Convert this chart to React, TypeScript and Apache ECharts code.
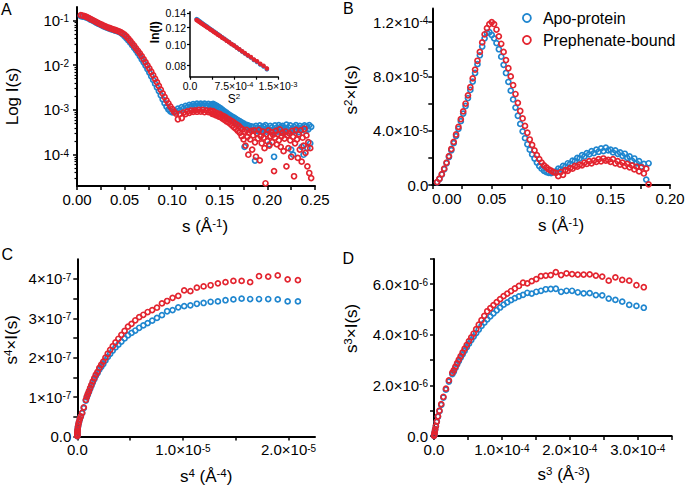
import React, { useEffect, useRef } from 'react';
import * as echarts from 'echarts';

const FONT = 'Arial, "Liberation Sans", Helvetica, sans-serif';
const BLUE = '#1f86cf';
const RED = '#e3242f';
const SERIES_NAMES = ['Apo-protein', 'Prephenate-bound'];

// ---------------- Panel A : s (1/Å) vs I(s) (log axis) ----------------
const sA = [
  0.004, 0.006, 0.008, 0.010, 0.012, 0.014, 0.016, 0.018, 0.020, 0.022,
  0.024, 0.026, 0.028, 0.030, 0.032, 0.034, 0.036, 0.038, 0.040, 0.042,
  0.044, 0.046, 0.048, 0.050, 0.052, 0.054, 0.056, 0.058, 0.060, 0.062,
  0.064, 0.066, 0.068, 0.070, 0.072, 0.074, 0.076, 0.078, 0.080, 0.082,
  0.084, 0.086, 0.088, 0.090, 0.092, 0.094, 0.096, 0.098, 0.100, 0.102,
  0.104, 0.106, 0.108, 0.110, 0.112, 0.114, 0.116, 0.118, 0.120, 0.122,
  0.124, 0.126, 0.128, 0.130, 0.132, 0.134, 0.136, 0.138, 0.140,
  0.141, 0.142, 0.143, 0.144, 0.145, 0.146, 0.147, 0.148, 0.149, 0.150,
  0.151, 0.152, 0.153, 0.154, 0.155, 0.156, 0.157, 0.158, 0.159, 0.160,
  0.161, 0.162, 0.163, 0.164, 0.165, 0.166, 0.167, 0.168, 0.169, 0.170,
  0.171, 0.172, 0.173, 0.174, 0.175, 0.176, 0.177, 0.178, 0.179, 0.180,
  0.181, 0.182, 0.183, 0.184, 0.185, 0.186, 0.187, 0.188, 0.189, 0.190,
  0.191, 0.192, 0.193, 0.194, 0.195, 0.196, 0.197, 0.198, 0.199, 0.200,
  0.201, 0.202, 0.203, 0.204, 0.205, 0.206, 0.207, 0.208, 0.209, 0.210,
  0.211, 0.212, 0.213, 0.214, 0.215, 0.216, 0.217, 0.218, 0.219, 0.220,
  0.221, 0.222, 0.223, 0.224, 0.225, 0.226, 0.227, 0.228, 0.229, 0.230,
  0.231, 0.232, 0.233, 0.234, 0.235, 0.236, 0.237, 0.238, 0.239, 0.240,
  0.241, 0.242, 0.243, 0.244, 0.245, 0.246,
];
const apoA = [
  0.125, 0.122, 0.120, 0.116, 0.111, 0.105, 0.100, 0.0951, 0.090, 0.0855,
  0.0816, 0.0778, 0.0742, 0.0711, 0.0684, 0.0659, 0.0637, 0.0616, 0.0597, 0.0578,
  0.0558, 0.0529, 0.0488, 0.0442, 0.0399, 0.0358, 0.0319, 0.0281, 0.0246, 0.0215,
  0.0186, 0.0160, 0.0136, 0.01163, 0.00984, 0.00822, 0.00684, 0.00567, 0.00469, 0.00387,
  0.00319, 0.00264, 0.00213, 0.00173, 0.00142, 0.00119, 0.00103, 0.000937, 0.00088, 0.000913,
  0.000925, 0.00107, 0.000986, 0.001157, 0.001076, 0.001231, 0.001152, 0.001293, 0.001215, 0.001344,
  0.001268, 0.001386, 0.001282, 0.00139, 0.001291, 0.001392, 0.001271, 0.001365, 0.00125,
  1.33e-3, 1.25e-3, 1.36e-3, 1.2e-3, 1.3e-3, 1.15e-3, 1.24e-3, 1.08e-3, 1.16e-3, 1.0e-3,
  1.08e-3, 9.3e-4, 1.0e-3, 8.6e-4, 9.3e-4, 8.0e-4, 8.7e-4, 7.4e-4, 8.1e-4, 6.9e-4,
  7.6e-4, 6.5e-4, 7.1e-4, 6.1e-4, 6.7e-4, 5.7e-4, 6.3e-4, 5.4e-4, 5.9e-4, 5.1e-4,
  5.6e-4, 4.8e-4, 5.3e-4, 4.5e-4, 5.0e-4, 1.5e-4, 4.7e-4, 4.1e-4, 4.6e-4, 3.9e-4,
  4.4e-4, 3.7e-4, 4.3e-4, 3.5e-4, 4.2e-4, 3.6e-4, 7.4e-5, 4.4e-4, 3.4e-4, 4.0e-4,
  3.3e-4, 4.5e-4, 3.6e-4, 4.1e-4, 3.2e-4, 4.3e-4, 3.5e-4, 4.6e-4, 3.3e-4, 4.0e-4,
  3.6e-4, 1.7e-4, 4.4e-4, 3.4e-4, 4.1e-4, 3.2e-4, 9.0e-5, 4.5e-4, 3.5e-4, 4.0e-4,
  3.3e-4, 4.6e-4, 3.6e-4, 4.2e-4, 3.1e-4, 4.4e-4, 3.5e-4, 4.0e-4, 3.2e-4, 4.7e-4,
  3.6e-4, 4.1e-4, 3.3e-4, 4.5e-4, 1.3e-4, 3.7e-4, 1.0e-4, 4.2e-4, 3.4e-4, 4.6e-4,
  3.5e-4, 4.0e-4, 3.2e-4, 4.4e-4, 3.6e-4, 1.5e-4, 4.1e-4, 1.0e-4, 4.5e-4, 3.4e-4,
  4.3e-4, 1.4e-4, 3.7e-4, 4.6e-4, 1.8e-4, 4.2e-4,
];
const prepA = [
  0.131, 0.128, 0.125, 0.120, 0.1146, 0.1087, 0.1035, 0.0981, 0.093, 0.0884,
  0.0842, 0.0802, 0.0765, 0.0733, 0.0703, 0.0679, 0.0656, 0.0634, 0.0613, 0.0595,
  0.0573, 0.0546, 0.0514, 0.048, 0.0438, 0.0393, 0.0349, 0.0309, 0.0272, 0.0239,
  0.021, 0.0184, 0.0159, 0.01367, 0.01167, 0.00995, 0.00848, 0.00715, 0.00602, 0.00498,
  0.00418, 0.00345, 0.00284, 0.00235, 0.00195, 0.00164, 0.00141, 0.0012, 0.00105, 0.000913,
  0.000832, 0.00062, 0.000814, 0.00066, 0.000877, 0.000808, 0.000929, 0.000862, 0.000972, 0.000907,
  0.000976, 0.000913, 0.001007, 0.000917, 0.001004, 0.000891, 0.000973, 0.000893, 0.000969,
  9.0e-4, 8.2e-4, 9.4e-4, 8.0e-4, 8.8e-4, 7.6e-4, 8.5e-4, 7.9e-4, 7.1e-4, 8.2e-4,
  6.9e-4, 7.6e-4, 6.4e-4, 7.3e-4, 6.0e-4, 6.9e-4, 5.6e-4, 6.4e-4, 5.3e-4, 6.1e-4,
  4.9e-4, 5.7e-4, 4.5e-4, 5.4e-4, 4.1e-4, 5.0e-4, 3.8e-4, 4.7e-4, 3.4e-4, 4.4e-4,
  3.1e-4, 4.0e-4, 2.6e-4, 3.7e-4, 2.2e-4, 3.3e-4, 1.6e-4, 3.6e-4, 2.5e-4, 1.0e-4,
  3.1e-4, 2.2e-4, 3.4e-4, 1.3e-4, 2.7e-4, 3.5e-4, 1.9e-4, 9.0e-5, 3.0e-4, 2.3e-4,
  3.6e-4, 7.5e-5, 2.6e-4, 1.8e-4, 3.3e-4, 2.4e-4, 1.4e-4, 2.3e-5, 2.9e-4, 2.0e-4,
  3.5e-4, 1.6e-4, 2.6e-4, 3.2e-4, 1.9e-4, 2.8e-4, 4.3e-5, 2.4e-4, 3.4e-4, 1.7e-4,
  2.9e-4, 2.1e-4, 3.7e-4, 1.5e-4, 2.6e-4, 3.1e-4, 1.2e-4, 2.3e-4, 3.3e-4, 5.5e-5,
  2.7e-4, 1.4e-4, 3.0e-4, 2.1e-4, 9.0e-5, 3.4e-4, 2.5e-4, 3.3e-5, 1.8e-4, 3.6e-4,
  2.2e-4, 8.5e-5, 2.9e-4, 1.3e-4, 3.5e-4, 7.0e-5, 2.4e-4, 1.6e-4, 3.8e-4, 1.1e-4,
  2.7e-4, 5.5e-5, 1.9e-4, 3.9e-5, 1.4e-4, 3.0e-5,
];

// ---------------- Inset : s^2 vs I (log axis labelled ln(I)) ----------------
const s2In = [
  1.124e-4, 1.300e-4, 1.488e-4, 1.690e-4, 1.904e-4, 2.132e-4, 2.372e-4, 2.624e-4, 2.890e-4, 3.168e-4,
  3.460e-4, 3.764e-4, 4.080e-4, 4.410e-4, 4.752e-4, 5.108e-4, 5.476e-4, 5.856e-4, 6.250e-4, 6.656e-4,
  7.076e-4, 7.508e-4, 7.952e-4, 8.410e-4, 8.880e-4, 9.364e-4, 9.860e-4, 1.0368e-3, 1.0890e-3, 1.1424e-3,
  1.1972e-3, 1.2532e-3, 1.3104e-3,
];
const apoIn = [
  0.1316, 0.1306, 0.1293, 0.1282, 0.1269, 0.1257, 0.1243, 0.1230, 0.1215, 0.1201,
  0.1184, 0.1169, 0.1152, 0.1137, 0.1119, 0.1102, 0.1083, 0.1066, 0.1046, 0.1029,
  0.1008, 0.0991, 0.0970, 0.0951, 0.0930, 0.0911, 0.0890, 0.0872, 0.0850, 0.0832,
  0.0810, 0.0792, 0.0769,
];
const prepIn = [
  0.1304, 0.1295, 0.1282, 0.1273, 0.1259, 0.1249, 0.1234, 0.1223, 0.1207, 0.1195,
  0.1177, 0.1164, 0.1146, 0.1132, 0.1114, 0.1099, 0.1079, 0.1064, 0.1044, 0.1028,
  0.1007, 0.0991, 0.0970, 0.0953, 0.0932, 0.0914, 0.0893, 0.0876, 0.0854, 0.0837,
  0.0815, 0.0798, 0.0776,
];

// ---------------- Panel B : s vs s^2 I(s)  (values in units of 1e-5) ----------------
const sB = [
  0.004, 0.006, 0.008, 0.010, 0.012, 0.014, 0.016, 0.018, 0.020, 0.022,
  0.024, 0.026, 0.028, 0.030, 0.032, 0.034, 0.036, 0.038, 0.040, 0.042,
  0.044, 0.046, 0.048, 0.050, 0.052, 0.054, 0.056, 0.058, 0.060, 0.062,
  0.064, 0.066, 0.068, 0.070, 0.072, 0.074, 0.076, 0.078, 0.080, 0.082,
  0.084, 0.086, 0.088, 0.090, 0.092, 0.094, 0.096, 0.098, 0.100, 0.102,
  0.104, 0.106, 0.108, 0.110, 0.112, 0.114, 0.116, 0.118, 0.120, 0.122,
  0.124, 0.126, 0.128, 0.130, 0.132, 0.134, 0.136, 0.138, 0.140, 0.142,
  0.144, 0.146, 0.148, 0.150, 0.152, 0.154, 0.156, 0.158, 0.160, 0.162,
  0.164, 0.166, 0.168, 0.170, 0.172, 0.174, 0.176, 0.178, 0.180, 0.182,
];
const apoB_e5 = [
  0.20, 0.44, 0.77, 1.16, 1.60, 2.06, 2.56, 3.08, 3.60, 4.14,
  4.70, 5.26, 5.82, 6.40, 7.00, 7.62, 8.25, 8.90, 9.55, 10.2,
  10.8, 11.2, 11.25, 11.05, 10.8, 10.45, 10.0, 9.45, 8.85, 8.25,
  7.6, 6.95, 6.3, 5.7, 5.1, 4.5, 3.95, 3.45, 3.0, 2.6,
  2.25, 1.95, 1.65, 1.4, 1.2, 1.05, 0.95, 0.9, 0.88, 0.95,
  1.0, 1.2, 1.15, 1.4, 1.35, 1.6, 1.55, 1.8, 1.75, 2.0,
  1.95, 2.2, 2.1, 2.35, 2.25, 2.5, 2.35, 2.6, 2.45, 2.7,
  2.5, 2.75, 2.55, 2.6, 2.4, 2.55, 2.3, 2.4, 2.15, 2.3,
  2.0, 2.1, 1.8, 1.95, 1.6, 1.75, 1.35, 1.55, 0.4, 1.6,
];
const prepB_e5 = [
  0.21, 0.46, 0.80, 1.20, 1.65, 2.13, 2.65, 3.18, 3.72, 4.28,
  4.85, 5.42, 6.00, 6.60, 7.20, 7.85, 8.50, 9.15, 9.80, 10.5,
  11.1, 11.55, 11.85, 12.0, 11.85, 11.45, 10.95, 10.4, 9.8, 9.2,
  8.6, 8.0, 7.35, 6.7, 6.05, 5.45, 4.9, 4.35, 3.85, 3.35,
  2.95, 2.55, 2.2, 1.9, 1.65, 1.45, 1.3, 1.15, 1.05, 0.95,
  0.9, 0.65, 0.95, 0.75, 1.1, 1.05, 1.25, 1.2, 1.4, 1.35,
  1.5, 1.45, 1.65, 1.55, 1.75, 1.6, 1.8, 1.7, 1.9, 1.75,
  1.95, 1.8, 1.85, 1.7, 1.9, 1.6, 1.75, 1.5, 1.65, 1.4,
  1.55, 1.3, 1.45, 1.15, 1.35, 1.0, 1.3, 0.85, 1.2, 0.05,
];

// ---------------- Panel C : s^4 (units 1e-6) vs s^4 I(s) (units 1e-7) ----------------
const s4C_e6 = [
  0.000256, 0.001296, 0.004096, 0.01, 0.02074, 0.03842, 0.06554, 0.105, 0.16, 0.2343,
  0.3318, 0.457, 0.6147, 0.81,
  0.8999, 0.9971, 1.1020, 1.2149, 1.3363, 1.4666, 1.6062, 1.7555, 1.9150, 2.0851,
  2.2664, 2.4591, 2.6639, 2.8813, 3.1117, 3.3556, 3.6137, 3.8863, 4.1740, 4.4775,
  4.7971, 5.1337, 5.4876, 5.8595, 6.2500, 6.6597, 7.0892, 7.5392, 8.0103, 8.5031,
  9.0183, 9.5565, 10.1185, 10.7049, 11.3165, 11.9539, 12.6178, 13.3091, 14.0283, 14.7763,
  15.5539, 16.3617, 17.2006, 18.0714, 18.9747, 19.9116, 20.8827,
];
const apoC_e7 = [
  0.01, 0.03, 0.06, 0.10, 0.14, 0.19, 0.245, 0.30, 0.36, 0.43,
  0.50, 0.59, 0.72, 0.91,
  0.99, 1.06, 1.13, 1.21, 1.29, 1.37, 1.45, 1.54, 1.61, 1.70,
  1.77, 1.84, 1.93, 2.02, 2.10, 2.18, 2.26, 2.33, 2.41, 2.49,
  2.57, 2.63, 2.69, 2.76, 2.82, 2.88, 2.94, 3.01, 3.08, 3.18,
  3.21, 3.28, 3.31, 3.33, 3.37, 3.39, 3.42, 3.43, 3.46, 3.48,
  3.50, 3.49, 3.49, 3.49, 3.48, 3.43, 3.43,
];
const prepC_e7 = [
  0.01, 0.03, 0.06, 0.10, 0.14, 0.19, 0.25, 0.31, 0.37, 0.44,
  0.51, 0.60, 0.74, 0.93,
  1.01, 1.08, 1.15, 1.23, 1.31, 1.40, 1.48, 1.57, 1.64, 1.74,
  1.82, 1.90, 2.00, 2.10, 2.20, 2.29, 2.39, 2.48, 2.58, 2.68,
  2.79, 2.86, 2.95, 3.03, 3.09, 3.16, 3.21, 3.27, 3.38, 3.44,
  3.52, 3.57, 3.71, 3.69, 3.78, 3.81, 3.84, 3.89, 3.92, 3.95,
  3.95, 3.92, 4.07, 4.06, 4.09, 3.99, 3.97,
];

// ---------------- Panel D : s^3 (units 1e-5) vs s^3 I(s) (units 1e-6) ----------------
const s3D_e5 = [
  0.0064, 0.0216, 0.0512, 0.1, 0.1728, 0.2744, 0.4096, 0.5832, 0.8, 1.065,
  1.382, 1.758, 2.195, 2.7,
  2.9218, 3.1554, 3.4012, 3.6594, 3.9304, 4.2144, 4.5118, 4.8229, 5.1479, 5.4872,
  5.8411, 6.2099, 6.5939, 6.9935, 7.4088, 7.8403, 8.2882, 8.7528, 9.2345, 9.7336,
  10.2503, 10.7850, 11.3380, 11.9095, 12.5000, 13.1097, 13.7388, 14.3878, 15.0569, 15.7464,
  16.4567, 17.1880, 17.9406, 18.7149, 19.5112, 20.3297, 21.1709, 22.0349, 22.9221, 23.8328,
  24.7673, 25.7259, 26.7090, 27.7168, 28.7496, 29.8078, 30.8916,
];
const apoD_e6 = [
  0.01, 0.034, 0.078, 0.155, 0.26, 0.39, 0.56, 0.76, 0.98, 1.23,
  1.52, 1.83, 2.15, 2.45,
  2.55, 2.69, 2.83, 2.96, 3.10, 3.23, 3.37, 3.51, 3.65, 3.79,
  3.93, 4.07, 4.21, 4.35, 4.48, 4.61, 4.73, 4.85, 4.97, 5.08,
  5.19, 5.28, 5.37, 5.45, 5.52, 5.58, 5.66, 5.63, 5.70, 5.74,
  5.80, 5.81, 5.82, 5.70, 5.74, 5.74, 5.68, 5.64, 5.65, 5.57,
  5.56, 5.43, 5.38, 5.31, 5.18, 5.14, 5.07,
];
const prepD_e6 = [
  0.01, 0.035, 0.08, 0.16, 0.27, 0.40, 0.57, 0.78, 1.0, 1.26,
  1.55, 1.87, 2.2, 2.5,
  2.6, 2.74, 2.88, 3.02, 3.16, 3.30, 3.45, 3.60, 3.75, 3.90,
  4.05, 4.22, 4.40, 4.58, 4.75, 4.93, 5.05, 5.17, 5.29, 5.41,
  5.53, 5.63, 5.73, 5.83, 5.93, 6.06, 6.03, 6.12, 6.20, 6.32,
  6.34, 6.36, 6.48, 6.36, 6.43, 6.40, 6.38, 6.38, 6.39, 6.34,
  6.30, 6.14, 6.27, 6.17, 6.14, 5.96, 5.88,
];

// ---------------- ticks & labels ----------------
const ticksAx = [0, 0.025, 0.05, 0.075, 0.1, 0.125, 0.15, 0.175, 0.2, 0.225, 0.25];
const labelsAx = [0, 0.05, 0.1, 0.15, 0.2, 0.25];
const labelsAy = [1e-4, 1e-3, 1e-2, 1e-1];
const minorAy = [
  3e-5, 4e-5, 5e-5, 6e-5, 7e-5, 8e-5, 9e-5,
  2e-4, 3e-4, 4e-4, 5e-4, 6e-4, 7e-4, 8e-4, 9e-4,
  2e-3, 3e-3, 4e-3, 5e-3, 6e-3, 7e-3, 8e-3, 9e-3,
  2e-2, 3e-2, 4e-2, 5e-2, 6e-2, 7e-2, 8e-2, 9e-2,
];
const ticksInX = [0, 3.75e-4, 7.5e-4, 1.125e-3, 1.5e-3];
const labelsInX = [0, 7.5e-4, 1.5e-3];
const labelsInY = [0.08, 0.10, 0.12, 0.14];
const ticksBx = [0, 0.025, 0.05, 0.075, 0.1, 0.125, 0.15, 0.175, 0.2];
const labelsBx = [0, 0.05, 0.1, 0.15, 0.2];
const ticksBy = [0, 2e-5, 4e-5, 6e-5, 8e-5, 1e-4, 1.2e-4];
const labelsBy = [0, 4e-5, 8e-5, 1.2e-4];
const ticksCx = [0, 5e-6, 1e-5, 1.5e-5, 2e-5];
const labelsCx = [0, 1e-5, 2e-5];
const ticksCy = [0, 0.5e-7, 1e-7, 1.5e-7, 2e-7, 2.5e-7, 3e-7, 3.5e-7, 4e-7];
const labelsCy = [0, 1e-7, 2e-7, 3e-7, 4e-7];
const ticksDx = [0, 5e-5, 1e-4, 1.5e-4, 2e-4, 2.5e-4, 3e-4, 3.5e-4];
const labelsDx = [0, 1e-4, 2e-4, 3e-4];
const ticksDy = [0, 1e-6, 2e-6, 3e-6, 4e-6, 5e-6, 6e-6, 7e-6];
const labelsDy = [0, 2e-6, 4e-6, 6e-6];

function pairs(xs: number[], ys: number[], kx = 1, ky = 1) {
  return xs.map((x, i) => [x * kx, ys[i] * ky]);
}

function sci(v: number, dec: number) {
  if (v === 0) return '0.0';
  const e = Math.floor(Math.log10(Math.abs(v)) + 1e-9);
  const m = v / Math.pow(10, e);
  return m.toFixed(dec) + '×10{sup|' + e + '}';
}

function buildOption(custom: boolean) {
  const supTick = { fontSize: 10, fontFamily: FONT, color: '#000', verticalAlign: 'top', lineHeight: 10 };
  const supName = { fontSize: 11.5, fontFamily: FONT, color: '#000', verticalAlign: 'top', lineHeight: 11 };

  const axis = (o: any) => {
    const fs = o.fs ?? 15;
    const lw = o.lw ?? 2;
    const a: any = {
      type: o.type ?? 'value',
      gridIndex: o.grid,
      min: o.min,
      max: o.max,
      position: o.position,
      axisLine: { show: o.line !== false, onZero: false, lineStyle: { color: '#000', width: lw } },
      axisTick: {
        show: true,
        length: o.tickLen ?? 4,
        lineStyle: { color: '#000', width: o.tw ?? 1.5 },
      },
      axisLabel: {
        show: o.labels !== false,
        color: '#000',
        fontFamily: FONT,
        fontSize: fs,
        lineHeight: o.lh ?? 13,
        margin: o.margin ?? 5,
        formatter: o.fmt,
        rich: { sup: { ...supTick, fontSize: o.supFs ?? 10 } },
      },
      splitLine: { show: false },
      minorTick: { show: false },
      name: o.name,
      nameLocation: 'middle',
      nameGap: o.nameGap,
      nameTextStyle: {
        color: '#000',
        fontFamily: FONT,
        fontSize: o.nameFs ?? 17,
        fontWeight: o.nameWeight ?? 'normal',
        lineHeight: (o.nameFs ?? 17) + 1,
        padding: o.namePad ?? 0,
        rich: { sup: { ...supName, fontSize: o.nameSupFs ?? 11.5 } },
      },
    };
    if (o.alignMin) a.axisLabel.alignMinLabel = o.alignMin;
    if (custom) {
      if (o.ticks) a.axisTick.customValues = o.ticks;
      if (o.labelVals) a.axisLabel.customValues = o.labelVals;
    } else if (a.type === 'value' && o.labelVals && o.labelVals.length > 1) {
      a.interval = o.labelVals[1] - o.labelVals[0];
      a.minorTick = { show: true, splitNumber: 2, length: 4, lineStyle: { color: '#000', width: 1.5 } };
      a.axisLabel.showMaxLabel = false;
    }
    return a;
  };

  const fix2 = (v: number) => v.toFixed(2);
  const pow10 = (v: number) => '10{sup|' + Math.round(Math.log10(v)) + '}';

  const xAxis = [
    axis({ grid: 0, position: 'bottom', min: 0, max: 0.25, ticks: ticksAx, labelVals: labelsAx, fmt: fix2, margin: 7,
      name: 's (Å{sup|-1})', nameGap: 31, namePad: [0, 0, 0, 18] }),
    axis({ grid: 1, position: 'bottom', min: 0, max: 1.5e-3, ticks: ticksInX, labelVals: labelsInX, fmt: (v: number) => sci(v, 1),
      fs: 10.5, supFs: 7.5, lw: 1.5, tw: 1.2, tickLen: 3, margin: 4, lh: 10,
      name: 'S{sup|2}', nameGap: 12, nameFs: 12, nameSupFs: 8, nameWeight: 'normal' }),
    axis({ grid: 2, position: 'bottom', min: 0, max: 0.2, ticks: ticksBx, labelVals: labelsBx, fmt: fix2, margin: 7,
      alignMin: 'left', name: 's (Å{sup|-1})', nameGap: 31, namePad: [0, 0, 0, 20] }),
    axis({ grid: 3, position: 'bottom', min: 0, max: 2.25e-5, ticks: ticksCx, labelVals: labelsCx, fmt: (v: number) => sci(v, 1), margin: 7,
      name: 's{sup|4} (Å{sup|-4})', nameGap: 31, namePad: [0, 0, 0, 20] }),
    axis({ grid: 4, position: 'bottom', min: 0, max: 3.5e-4, ticks: ticksDx, labelVals: labelsDx, fmt: (v: number) => sci(v, 1), margin: 7,
      name: 's{sup|3} (Å{sup|-3})', nameGap: 29, namePad: [0, 0, 0, 22] }),
  ];

  const yAxis = [
    axis({ type: 'log', grid: 0, position: 'left', min: 2e-5, max: 0.2, ticks: labelsAy, labelVals: labelsAy, fmt: pow10,
      margin: 8, name: 'Log I(s)', nameGap: 56 }),
    axis({ type: 'log', grid: 0, position: 'left', min: 2e-5, max: 0.2, ticks: minorAy, labels: false, line: false, tickLen: 2.5, tw: 1.2 }),
    axis({ type: 'log', grid: 1, position: 'left', min: 0.071, max: 0.1425, ticks: labelsInY, labelVals: labelsInY, fmt: fix2,
      fs: 10.5, lw: 1.5, tw: 1.2, tickLen: 3, margin: 4, lh: 10,
      name: 'ln(I)', nameGap: 24, nameFs: 12, nameWeight: 'bold', namePad: [0, 0, 0, 24] }),
    axis({ grid: 2, position: 'left', min: 0, max: 1.3e-4, ticks: ticksBy, labelVals: labelsBy, fmt: (v: number) => sci(v, 1),
      margin: 4, name: 's{sup|2}×I(s)', nameGap: 72, namePad: [0, 0, 0, 14] }),
    axis({ grid: 3, position: 'left', min: 0, max: 4.5e-7, ticks: ticksCy, labelVals: labelsCy, fmt: (v: number) => sci(v, 0),
      margin: 6, name: 's{sup|4}×I(s)', nameGap: 57, namePad: [0, 0, 0, 16] }),
    axis({ grid: 4, position: 'left', min: 0, max: 7e-6, ticks: ticksDy, labelVals: labelsDy, fmt: (v: number) => sci(v, 1),
      margin: 6, name: 's{sup|3}×I(s)', nameGap: 74, namePad: [0, 0, 0, 38] }),
  ];

  const grids = [
    { left: 77, top: 7, width: 238, height: 179 },
    { left: 190, top: 11.7, width: 88, height: 65 },
    { left: 432.3, top: 8.5, width: 237.7, height: 176.5 },
    { left: 77.3, top: 259.3, width: 237.7, height: 177.1 },
    { left: 434, top: 258.9, width: 237.7, height: 177.1 },
  ].map((g) => ({ ...g, show: false, containLabel: false, outerBoundsMode: 'none' }));

  const sc = (name: string, color: string, xi: number, yi: number, data: number[][], size = 5, bw = 1.7, fill = 'rgba(255,255,255,0)') => ({
    type: 'scatter',
    name,
    xAxisIndex: xi,
    yAxisIndex: yi,
    data,
    symbol: 'circle',
    symbolSize: size,
    itemStyle: { color: fill, borderColor: color, borderWidth: bw, opacity: 1 },
    emphasis: { disabled: true },
    silent: true,
    clip: true,
    animation: false,
  });

  const series = [
    sc(SERIES_NAMES[0], BLUE, 0, 0, pairs(sA, apoA)),
    sc(SERIES_NAMES[1], RED, 0, 0, pairs(sA, prepA)),
    sc(SERIES_NAMES[0], BLUE, 1, 2, pairs(s2In, apoIn), 3.4, 1.2, BLUE),
    sc(SERIES_NAMES[1], RED, 1, 2, pairs(s2In, prepIn), 3.4, 1.2, RED),
    sc(SERIES_NAMES[0], BLUE, 2, 3, pairs(sB, apoB_e5, 1, 1e-5)),
    sc(SERIES_NAMES[1], RED, 2, 3, pairs(sB, prepB_e5, 1, 1e-5)),
    sc(SERIES_NAMES[0], BLUE, 3, 4, pairs(s4C_e6, apoC_e7, 1e-6, 1e-7)),
    sc(SERIES_NAMES[1], RED, 3, 4, pairs(s4C_e6, prepC_e7, 1e-6, 1e-7)),
    sc(SERIES_NAMES[0], BLUE, 4, 5, pairs(s3D_e5, apoD_e6, 1e-5, 1e-6)),
    sc(SERIES_NAMES[1], RED, 4, 5, pairs(s3D_e5, prepD_e6, 1e-5, 1e-6)),
  ];

  const letter = (text: string, left: number, top: number) => ({
    text, left, top, padding: 0,
    textStyle: { fontSize: 16, fontWeight: 'normal', fontFamily: FONT, color: '#000' },
  });

  return {
    animation: false,
    backgroundColor: '#fff',
    title: [letter('A', 1, 1), letter('B', 343, 0), letter('C', 1.5, 246), letter('D', 342.5, 250)],
    legend: {
      data: SERIES_NAMES,
      orient: 'vertical',
      left: 522,
      top: 10,
      itemWidth: 22,
      itemHeight: 8,
      itemGap: 6,
      selectedMode: false,
      padding: 0,
      itemStyle: { borderWidth: 1.8 },
      textStyle: { fontSize: 16, fontFamily: FONT, color: '#000', lineHeight: 16 },
    },
    grid: grids,
    xAxis,
    yAxis,
    series,
  };
}

export default function App() {
  const ref = useRef<HTMLDivElement>(null);
  useEffect(() => {
    if (!ref.current) return;
    let chart = echarts.init(ref.current, undefined, { renderer: 'svg' });
    try {
      chart.setOption(buildOption(true) as any);
    } catch (e) {
      chart.dispose();
      chart = echarts.init(ref.current, undefined, { renderer: 'svg' });
      chart.setOption(buildOption(false) as any);
    }
    return () => chart.dispose();
  }, []);
  return (
    <div
      ref={ref}
      style={{ position: 'absolute', left: 0, top: 0, width: 693, height: 488, background: '#fff' }}
    />
  );
}
